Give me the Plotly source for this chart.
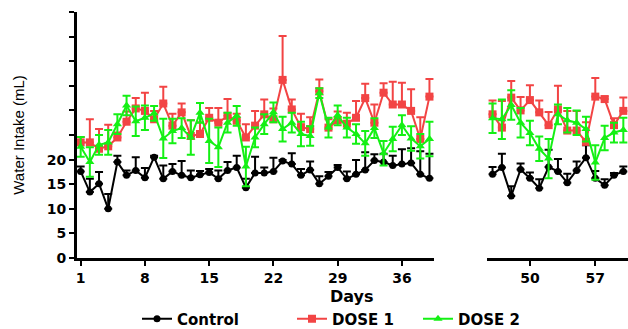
import plotly.graph_objects as go

# ---------------- data ----------------
days_a = list(range(1, 40))
days_b = list(range(46, 61))

control_a = [17.6, 13.4, 15.1, 10.0, 19.5, 16.8, 17.8, 16.3, 20.5, 16.1,
             17.6, 16.8, 16.3, 16.9, 17.4, 16.1, 17.8, 18.4, 14.3, 17.3,
             17.3, 17.6, 19.7, 19.1, 16.8, 17.9, 15.1, 16.6, 18.4, 16.1,
             17.0, 17.9, 19.8, 19.5, 18.8, 19.1, 19.3, 17.0, 16.2]
control_a_err = [1.0, 2.7, 2.4, 3.0, 1.3, 1.0, 2.7, 2.0, 0.3, 2.7,
                 1.5, 2.9, 1.5, 0.8, 0.7, 1.7, 1.7, 2.4, 1.8, 3.3,
                 1.1, 2.8, 0.2, 2.2, 1.3, 1.7, 1.5, 0.9, 0.5, 1.5,
                 2.9, 3.6, 1.3, 1.7, 2.0, 3.0, 3.0, 4.7, 5.0]
control_b = [17.0, 18.4, 12.6, 18.0, 16.2, 14.2, 18.5, 17.6, 15.3, 17.8,
             20.4, 16.2, 14.8, 16.8, 17.6]
control_b_err = [1.5, 2.8, 2.0, 1.2, 1.2, 1.8, 3.5, 2.5, 1.8, 1.8,
                 2.5, 1.5, 1.2, 0.5, 1.0]

dose1_a = [23.5, 23.5, 22.2, 22.7, 24.5, 27.7, 30.4, 29.9, 28.2, 31.4,
           26.9, 29.6, 24.8, 25.2, 28.5, 27.5, 28.9, 27.9, 24.5, 26.9,
           29.2, 28.2, 36.2, 30.2, 26.6, 26.2, 33.9, 26.5, 28.0, 27.3,
           28.5, 32.5, 27.5, 33.6, 31.2, 31.2, 29.9, 24.2, 32.8]
dose1_a_err = [1.1, 4.7, 4.0, 4.4, 1.0, 2.1, 2.1, 3.7, 1.7, 3.4,
               2.4, 1.8, 3.2, 2.4, 2.0, 3.0, 3.4, 1.4, 2.7, 3.0,
               3.0, 2.2, 8.9, 2.0, 2.7, 2.4, 2.4, 1.7, 1.8, 2.2,
               3.4, 2.9, 3.7, 1.9, 4.6, 4.4, 4.4, 4.4, 3.6]
dose1_b = [29.2, 26.5, 32.6, 30.0, 32.1, 29.6, 27.0, 30.2, 25.9, 25.9,
           23.6, 32.8, 32.3, 27.0, 29.9]
dose1_b_err = [2.8, 5.4, 3.4, 2.7, 3.0, 2.4, 2.7, 4.8, 4.0, 4.0,
               4.0, 3.8, 0.5, 1.4, 2.7]

dose2_a = [22.6, 19.5, 23.0, 23.5, 27.2, 31.0, 27.8, 28.5, 29.4, 24.3,
           25.8, 26.4, 24.5, 29.5, 23.8, 22.5, 27.5, 28.9, 18.6, 24.5,
           27.2, 29.6, 26.2, 27.5, 25.2, 24.8, 33.5, 26.5, 29.0, 26.5,
           25.2, 23.3, 26.4, 21.3, 24.2, 27.0, 24.3, 22.7, 24.2]
dose2_a_err = [2.0, 3.0, 2.0, 2.5, 2.0, 2.0, 3.0, 2.5, 1.5, 4.0,
               2.5, 2.0, 3.5, 2.0, 4.5, 4.0, 2.0, 2.0, 4.0, 2.0,
               2.0, 2.0, 2.5, 2.0, 2.5, 2.0, 1.0, 2.0, 2.0, 2.0,
               2.0, 2.5, 2.0, 2.5, 2.5, 2.0, 2.5, 2.5, 3.5]
dose2_b = [28.4, 28.2, 31.1, 27.5, 25.4, 22.2, 20.2, 29.2, 28.0, 27.5,
           26.2, 19.4, 24.4, 25.5, 26.0]
dose2_b_err = [3.0, 4.0, 3.0, 3.0, 2.5, 2.5, 4.0, 2.0, 2.5, 2.5,
               2.5, 3.5, 2.5, 2.0, 2.5]

y_tickvals = [0, 5, 10, 15, 20, 25, 30, 35, 40, 45, 50]
y_ticktext = ["0", "5", "10", "15", "20", "", "", "", "", "", ""]
x_ticks_a = [1, 8, 15, 22, 29, 36]
x_ticks_b = [50, 57]

# ---------------- styling ----------------
BLACK = "#000000"
RED = "#F24444"
GREEN = "#14F014"
BOLD = dict(family="DejaVu Sans", size=14, color="black", weight="bold")
LEGFONT = dict(family="DejaVu Sans", size=15, color="black", weight="bold")

series = [
    ("Control", control_a, control_a_err, control_b, control_b_err, BLACK,
     "circle", 7, False, "legend"),
    ("DOSE 1", dose1_a, dose1_a_err, dose1_b, dose1_b_err, RED,
     "square", 8, False, "legend2"),
    ("DOSE 2", dose2_a, dose2_a_err, dose2_b, dose2_b_err, GREEN,
     "triangle-up", 8, True, "legend3"),
]

fig = go.Figure()
for name, ya, ea, yb, eb, col, sym, ms, both, leg in series:
    for xs, ys, es, xax, show in ((days_a, ya, ea, "x", True),
                                  (days_b, yb, eb, "x2", False)):
        err = dict(type="data", array=es, color=col, thickness=2, width=4)
        if not both:
            err.update(symmetric=False, arrayminus=[0] * len(es))
        fig.add_trace(go.Scatter(
            x=xs, y=ys, mode="lines+markers", name=name,
            line=dict(color=col, width=2),
            marker=dict(color=col, symbol=sym, size=ms),
            error_y=err, xaxis=xax, yaxis="y",
            showlegend=show, legend=leg))

axis_common = dict(showline=True, linewidth=3, linecolor="black",
                   ticks="outside", ticklen=5, tickwidth=2, tickcolor="black",
                   showgrid=False, zeroline=False, tickfont=BOLD,
                   automargin=False)


def legend_at(px):
    return dict(xref="container", yref="container", x=px / 628, y=10 / 329,
                xanchor="left", yanchor="middle", orientation="h",
                font=LEGFONT, bgcolor="rgba(0,0,0,0)", borderwidth=0)


fig.update_layout(
    width=628, height=329,
    margin=dict(l=77, r=0, t=12, b=71, autoexpand=False),
    paper_bgcolor="white", plot_bgcolor="white",
    xaxis=dict(domain=[0, 0.648], range=[0.6, 39.5], tickmode="array",
               tickvals=x_ticks_a, **axis_common),
    xaxis2=dict(domain=[0.744, 1.0], range=[45.4, 60.5], tickmode="array",
                tickvals=x_ticks_b, anchor="y", **axis_common),
    yaxis=dict(range=[0, 50], tickmode="array", tickvals=y_tickvals,
               ticktext=y_ticktext,
               title=dict(text="Water Intake (mL)", standoff=19,
                          font=dict(family="Liberation Sans", size=15,
                                    color="black")),
               **axis_common),
    legend=legend_at(137),
    legend2=legend_at(292),
    legend3=legend_at(418),
    annotations=[dict(text="Days", xref="paper", yref="paper",
                      x=(352 - 77) / 551, y=(258 - 296.7) / 246,
                      xanchor="center", yanchor="middle", showarrow=False,
                      font=dict(family="DejaVu Sans", size=16, color="black",
                                weight="bold"))],
)

fig.write_html("out.html", config={"displayModeBar": False},
               post_script="document.body.style.margin='0';"
                           "document.body.style.overflow='hidden';")
